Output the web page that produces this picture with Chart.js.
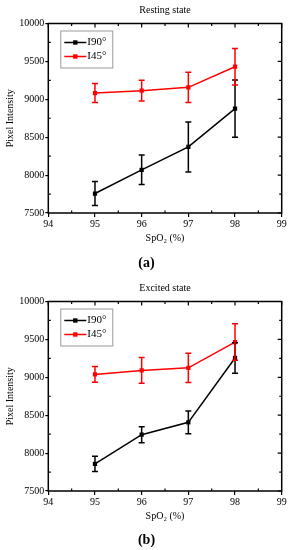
<!DOCTYPE html>
<html><head><meta charset="utf-8">
<script src="https://cdn.jsdelivr.net/npm/chart.js@4/dist/chart.umd.min.js"></script>
<style>
body{margin:0;background:#fff;width:293px;height:550px;position:relative;overflow:hidden}
.wrap{position:absolute;left:0;width:293px;height:278px}
.cap{position:absolute;left:0;width:293px;text-align:center;font:bold 14px "Liberation Serif",serif;color:#000;line-height:16px}
</style></head><body>
<div class="wrap" style="top:0"><canvas id="c1" width="293" height="278"></canvas></div>
<div class="wrap" style="top:278px"><canvas id="c2" width="293" height="278"></canvas></div>
<div class="cap" style="top:255px">(a)</div>
<div class="cap" style="top:532px">(b)</div>
<script>
// ---- data ----
const spo2 = [95, 96, 97, 98];
const xTicks = [94, 95, 96, 97, 98, 99];
const yTicks = [7500, 8000, 8500, 9000, 9500, 10000];
const seriesLabels = ['I90°', 'I45°'];

const restI90 = [7757, 8070, 8372, 8877];
const restI90Err = [157, 195, 330, 378];
const restI45 = [9083, 9114, 9158, 9430];
const restI45Err = [125, 138, 200, 240];

const excI90 = [7858, 8243, 8406, 9255];
const excI90Err = [100, 106, 150, 200];
const excI45 = [9038, 9091, 9125, 9465];
const excI45Err = [103, 170, 192, 240];

const FONT = '"Liberation Serif", "Times New Roman", serif';
const COLORS = ['#000000', '#ff0000'];

const errorBars = {
  id: 'errorBars',
  afterDatasetsDraw(chart) {
    const {ctx} = chart, xs = chart.scales.x, ys = chart.scales.y;
    chart.data.datasets.forEach(ds => {
      ctx.save();
      ctx.strokeStyle = ds.borderColor; ctx.lineWidth = 1.5;
      ds.data.forEach((p, j) => {
        const e = ds.errs[j];
        const x = xs.getPixelForValue(p.x);
        const y1 = ys.getPixelForValue(p.y + e), y2 = ys.getPixelForValue(p.y - e);
        ctx.beginPath();
        ctx.moveTo(x, y1); ctx.lineTo(x, y2);
        ctx.moveTo(x - 3, y1); ctx.lineTo(x + 3, y1);
        ctx.moveTo(x - 3, y2); ctx.lineTo(x + 3, y2);
        ctx.stroke();
      });
      ctx.restore();
    });
  }
};

const frameTicks = {
  id: 'frameTicks',
  afterDraw(chart) {
    const {ctx, chartArea: a} = chart, xs = chart.scales.x, ys = chart.scales.y;
    ctx.save();
    ctx.strokeStyle = '#000'; ctx.lineWidth = 1.2;
    ctx.beginPath();
    for (let v = xTicks[0]; v <= xTicks[xTicks.length - 1] + 1e-9; v += 0.5) {
      const x = xs.getPixelForValue(v);
      const major = Math.abs(v - Math.round(v)) < 1e-6;
      ctx.moveTo(x, a.top); ctx.lineTo(x, a.top + (major ? 4 : 2.5));
      if (!major) { ctx.moveTo(x, a.bottom); ctx.lineTo(x, a.bottom - 2.5); }
    }
    for (let v = yTicks[0]; v <= yTicks[yTicks.length - 1]; v += 250) {
      const y = ys.getPixelForValue(v);
      const major = v % 500 === 0;
      ctx.moveTo(a.right, y); ctx.lineTo(a.right - (major ? 4 : 2.5), y);
      if (!major) { ctx.moveTo(a.left, y); ctx.lineTo(a.left + 2.5, y); }
    }
    ctx.stroke();
    ctx.lineWidth = 1.5;
    ctx.strokeRect(a.left, a.top, a.right - a.left, a.bottom - a.top);
    ctx.restore();
  }
};

const boxLegend = {
  id: 'boxLegend',
  afterDraw(chart) {
    const {ctx, chartArea: a} = chart;
    const bx = a.left + 12, by = a.top + 7, bw = 52, bh = 37;
    ctx.save();
    ctx.strokeStyle = '#999'; ctx.lineWidth = 1;
    ctx.strokeRect(bx + 0.5, by + 0.5, bw, bh);
    chart.data.datasets.forEach((ds, i) => {
      const y = by + 12 + i * 14;
      ctx.strokeStyle = ds.borderColor; ctx.lineWidth = 1.5;
      ctx.beginPath(); ctx.moveTo(bx + 4, y); ctx.lineTo(bx + 26, y); ctx.stroke();
      ctx.fillStyle = ds.borderColor;
      ctx.fillRect(bx + 15 - 2.2, y - 2.2, 4.4, 4.4);
      ctx.fillStyle = '#000';
      ctx.font = '11px ' + FONT;
      ctx.textBaseline = 'middle'; ctx.textAlign = 'left';
      ctx.fillText(ds.label, bx + 27, y);
    });
    ctx.restore();
  }
};

function makeChart(id, title, a, ae, b, be) {
  const pts = arr => arr.map((v, i) => ({x: spo2[i], y: v}));
  const tickFont = {family: FONT, size: 10};
  return new Chart(document.getElementById(id), {
    type: 'line',
    data: {
      datasets: [
        {label: seriesLabels[0], data: pts(a), errs: ae, borderColor: COLORS[0], backgroundColor: COLORS[0],
         borderWidth: 1.5, pointStyle: 'rect', pointRadius: 3, pointBorderWidth: 0, tension: 0},
        {label: seriesLabels[1], data: pts(b), errs: be, borderColor: COLORS[1], backgroundColor: COLORS[1],
         borderWidth: 1.5, pointStyle: 'rect', pointRadius: 3, pointBorderWidth: 0, tension: 0}
      ]
    },
    options: {
      responsive: false, animation: false,
      layout: {padding: 0},
      plugins: {legend: {display: false}, tooltip: {enabled: false}, title: {display: false}},
      scales: {
        x: {
          type: 'linear', position: 'bottom', min: xTicks[0], max: xTicks[xTicks.length - 1],
          afterBuildTicks: s => { s.ticks = xTicks.map(v => ({value: v})); },
          ticks: {font: tickFont, color: '#000', padding: 1, maxRotation: 0, callback: v => String(v)},
          grid: {drawOnChartArea: false, tickLength: 4, color: '#000', lineWidth: 1.2},
          border: {display: false},
          title: {display: true, text: 'SpO₂ (%)', color: '#000', font: {family: FONT, size: 10}, padding: {top: 0, bottom: 34}},
          afterFit: s => { s.height = 65; }
        },
        x2: {
          type: 'linear', position: 'top', min: xTicks[0], max: xTicks[xTicks.length - 1],
          ticks: {display: false}, grid: {display: false}, border: {display: false},
          title: {display: true, text: title, color: '#000', font: {family: FONT, size: 10}, padding: {top: 4, bottom: 0}},
          afterFit: s => { s.height = 23.5; }
        },
        y: {
          type: 'linear', position: 'left', min: yTicks[0], max: yTicks[yTicks.length - 1],
          afterBuildTicks: s => { s.ticks = yTicks.map(v => ({value: v})); },
          ticks: {font: tickFont, color: '#000', padding: 1, callback: v => String(v)},
          grid: {drawOnChartArea: false, tickLength: 3, color: '#000', lineWidth: 1.2},
          border: {display: false},
          title: {display: true, text: 'Pixel Intensity', color: '#000', font: {family: FONT, size: 10}, padding: {top: 4, bottom: 0}},
          afterFit: s => { s.width = 48.3; }
        },
        y2: {
          type: 'linear', position: 'right', min: yTicks[0], max: yTicks[yTicks.length - 1],
          ticks: {display: false}, grid: {display: false}, border: {display: false},
          afterFit: s => { s.width = 11.3; }
        }
      }
    },
    plugins: [errorBars, frameTicks, boxLegend]
  });
}

makeChart('c1', 'Resting state', restI90, restI90Err, restI45, restI45Err);
makeChart('c2', 'Excited state', excI90, excI90Err, excI45, excI45Err);
</script>
</body></html>
